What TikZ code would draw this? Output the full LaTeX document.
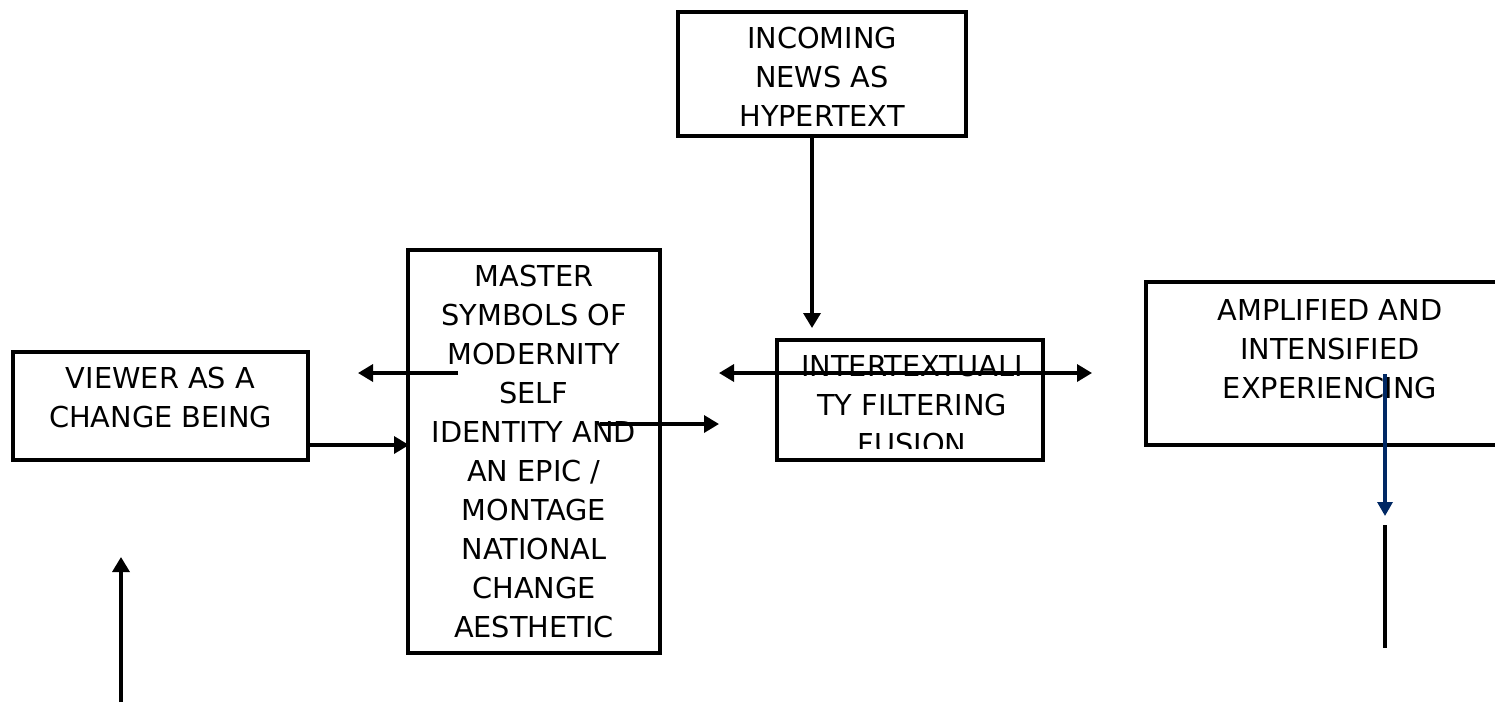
\documentclass[tikz,border=0pt]{standalone}
\usepackage{fontspec}
\setmainfont{DejaVu Sans}
\usetikzlibrary{arrows.meta}
\definecolor{navy}{RGB}{0,40,100}
\begin{document}
\begin{tikzpicture}[x=1pt,y=-1pt,
  lbl/.style={font=\fontsize{28.8}{39}\selectfont,align=center,inner sep=0pt,anchor=north},
  boxline/.style={line width=3.4pt},
  arr/.style={line width=3.4pt,-{Triangle[length=15pt,width=17pt]}},
  darr/.style={line width=3.4pt,{Triangle[length=15pt,width=17pt]}-{Triangle[length=15pt,width=17pt]}},
  plain/.style={line width=3.4pt}]
\useasboundingbox (0,0) rectangle (1495,702);
% boxes
\draw[boxline] (678,12) rectangle (966,136);
\node[lbl] (tinc) at (822,27) {INCOMING\\NEWS AS\\HYPERTEXT};
\draw[boxline] (408,250) rectangle (660,653);
\node[lbl] (tmas) at (534,265) {MASTER\\SYMBOLS OF\\MODERNITY\\SELF\\IDENTITY AND\\AN EPIC /\\MONTAGE\\NATIONAL\\CHANGE\\AESTHETIC};
\draw[boxline] (13,352) rectangle (308,460);
\node[lbl] (tview) at (160.5,367) {VIEWER AS A\\CHANGE BEING};
\draw[boxline] (777,340) rectangle (1043,460);
\begin{scope}
\clip (777,340) rectangle (1043,448);
\node[lbl] (tint) at (912,355) {INTERTEXTUALI\\TY FILTERING\\FUSION};
\end{scope}
\draw[boxline] (1530,282) -- (1146,282) -- (1146,445) -- (1530,445);
\node[lbl] (tamp) at (1330,299) {AMPLIFIED AND\\INTENSIFIED\\EXPERIENCING};
% connector coordinates
\coordinate (a1s) at (812,136);
\coordinate (a1e) at (812,328);
\coordinate (a2s) at (458,373);
\coordinate (a2e) at (358,373);
\coordinate (a3s) at (308,445);
\coordinate (a3e) at (409,445);
\coordinate (a4s) at (600,424);
\coordinate (a4e) at (719,424);
\coordinate (a5s) at (719,373);
\coordinate (a5e) at (1092,373);
\coordinate (a6s) at (1385,374);
\coordinate (a6e) at (1385,516);
\coordinate (a7s) at (1385,525);
\coordinate (a7e) at (1385,648);
\coordinate (a8s) at (121,702);
\coordinate (a8e) at (121,557);
% connectors
\draw[arr] (a1s) -- (a1e);
\draw[arr] (a2s) -- (a2e);
\draw[arr] (a3s) -- (a3e);
\draw[arr] (a4s) -- (a4e);
\draw[darr] (a5s) -- (a5e);
\draw[draw=navy,fill=navy,line width=3.2pt,-{Triangle[length=14pt,width=15pt]}] (a6s) -- (a6e);
\draw[plain] (a7s) -- (a7e);
\draw[arr] (a8s) -- (a8e);
\end{tikzpicture}
\end{document}
